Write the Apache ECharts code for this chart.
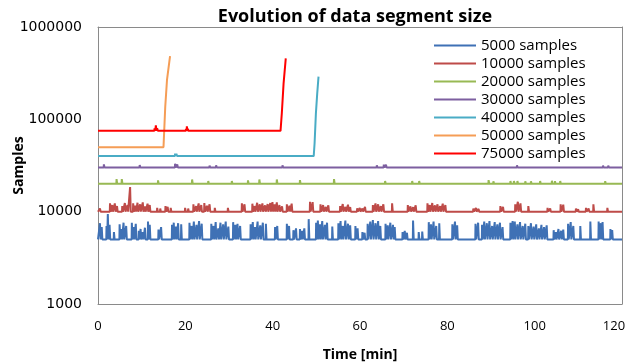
<!DOCTYPE html>
<html>
<head>
<meta charset="utf-8">
<script src="https://cdn.jsdelivr.net/npm/echarts@6/dist/echarts.min.js"></script>
<style>
  html, body { margin: 0; padding: 0; background: #fff; }
  #chart { width: 627px; height: 364px; }
</style>
</head>
<body>
<div id="chart"></div>
<script>
// Spike events per series: [time (min), samples]. Baseline = segment size.
const seriesNames = ['5000 samples', '10000 samples', '20000 samples', '30000 samples',
  '40000 samples', '50000 samples', '75000 samples'];
const seriesColors = ['#3F71B5', '#BE4B48', '#98B954', '#7D5FA0', '#4AACC5', '#F59D56', '#FF0000'];
const xTicks = [0, 20, 40, 60, 80, 100, 120];
const yTicks = [1000, 10000, 100000, 1000000];

const spikes5000 = [
  [0.5, 7500], [0.9, 6800], [2.0, 7000], [2.3, 9400], [2.7, 7200], [3.7, 6000],
  [5.0, 7300], [5.4, 6500], [5.9, 7600], [6.5, 7000], [7.8, 7600], [8.2, 6800], [8.7, 7400],
  [9.4, 6200], [9.8, 6500], [10.3, 6000], [10.8, 6700], [11.5, 7800], [11.9, 7200],
  [13.9, 6400], [14.5, 6800], [17.0, 7200], [17.4, 7600], [17.9, 6900], [18.4, 7500], [19.1, 7300],
  [21.0, 7600], [21.5, 7000], [22.0, 7800], [22.6, 7200], [23.2, 7900], [23.8, 7400],
  [26.0, 7400], [26.5, 7000], [27.0, 7700], [27.6, 6600], [28.1, 7600], [28.7, 7300], [29.3, 7800], [29.9, 6900],
  [31.0, 7700], [31.5, 7200], [32.0, 7400], [32.6, 7000],
  [35.0, 7300], [35.5, 7700], [36.0, 6800], [36.6, 7800], [37.2, 7100], [37.8, 7600], [38.5, 7400],
  [40.6, 6800], [41.1, 7000], [43.3, 7400], [43.8, 7000], [44.8, 6300], [45.4, 6600],
  [46.3, 6500], [46.8, 6200], [47.3, 6600], [48.3, 8300],
  [50.0, 7600], [50.4, 8000], [50.9, 7300], [51.4, 7900], [52.0, 7200], [52.5, 7600], [53.7, 6900],
  [55.1, 7500], [55.6, 7900], [56.1, 7000], [56.7, 8000], [57.3, 7400], [57.8, 7100],
  [59.0, 7000], [59.5, 6600], [60.6, 6000], [61.1, 5900],
  [61.8, 7400], [62.4, 7800], [63.0, 8100], [63.6, 7500], [64.2, 7900], [64.7, 7000],
  [65.9, 7400], [66.4, 7100], [67.0, 7600], [67.6, 7200], [68.0, 6800],
  [69.8, 6000], [70.3, 6200], [70.8, 5900], [72.2, 8000], [73.5, 6000], [74.3, 6100],
  [75.8, 7700], [76.3, 7300], [76.9, 7800], [77.5, 7000], [78.2, 7500],
  [81.2, 7300], [81.8, 7800], [82.3, 7100], [86.5, 7400], [87.1, 7600],
  [88.0, 7200], [88.5, 7800], [89.1, 7500], [89.7, 7900], [90.3, 7000], [90.9, 7700], [91.5, 7300], [92.1, 7600], [92.7, 6800],
  [94.5, 7600], [95.0, 7900], [95.5, 7800], [96.1, 7300], [96.7, 7700], [97.3, 7000], [97.9, 7400],
  [98.6, 7000], [99.2, 7500], [99.8, 6900], [100.4, 7300], [101.0, 6600], [101.6, 7200], [102.2, 6800], [102.8, 7100],
  [104.4, 6300], [104.9, 6000], [105.5, 6500], [106.1, 6200], [106.6, 6400],
  [107.7, 7400], [108.3, 7700], [108.9, 7000], [110.5, 7000], [112.8, 7800],
  [114.7, 7800], [115.2, 7500], [115.6, 7700], [117.4, 6500], [117.8, 6300]
];

const spikes10000 = [
  [0.5, 10800], [2.8, 12300], [3.3, 11800], [3.9, 12300], [4.4, 11500],
  [5.6, 11500], [6.2, 12400], [6.8, 11800], [7.4, 18500],
  [8.1, 12300], [8.6, 11600], [9.1, 12500], [9.7, 12000], [10.3, 12600], [10.8, 11400], [11.4, 12200], [11.9, 11800],
  [13.6, 11000], [14.3, 10800], [15.5, 11500], [16.0, 11300], [16.7, 11000], [20.0, 11000], [20.7, 10800],
  [21.9, 12000], [22.5, 11500], [23.1, 12300], [23.7, 11800], [24.4, 12400], [25.0, 11600], [25.6, 12000],
  [26.8, 11000], [29.8, 11000], [33.0, 12300], [33.6, 12000],
  [35.4, 12200], [35.9, 11500], [36.5, 12500], [37.1, 12000], [37.7, 12300], [38.3, 11700], [38.9, 12100],
  [39.5, 12400], [40.0, 12700], [40.5, 12000], [41.0, 12600], [41.6, 11800], [42.2, 11400],
  [43.3, 12000], [43.9, 11600], [44.4, 12200], [48.6, 12800], [49.2, 12700],
  [51.0, 12000], [51.6, 11800], [52.2, 11300], [52.8, 11700],
  [55.5, 11500], [56.1, 12100], [56.7, 11300], [57.3, 11900], [57.8, 11200],
  [59.4, 10900], [60.0, 11000], [60.6, 10800], [61.2, 11300],
  [63.0, 11800], [63.6, 12300], [64.2, 12000], [64.8, 11500], [65.4, 12000], [67.4, 12300],
  [71.0, 11800], [71.6, 11400], [72.2, 11200], [72.8, 11700],
  [75.5, 12300], [76.0, 11800], [76.6, 12400], [77.2, 11700], [77.8, 12000], [78.4, 11500], [79.0, 12200], [79.6, 11800],
  [81.2, 10500], [83.5, 10500], [86.0, 10800], [86.6, 11000], [87.2, 10700],
  [92.2, 11500], [92.8, 11300], [95.6, 12000], [96.2, 12800], [96.8, 12300], [98.6, 11500],
  [103.0, 11000], [103.6, 10800], [106.0, 12000], [106.6, 11900], [109.5, 10800], [110.0, 10600],
  [111.8, 11000], [112.4, 10800], [113.5, 12000], [116.7, 11000]
];

const spikes20000 = [
  [4.3, 22500], [5.5, 22500], [8.5, 20500], [13.8, 21800], [21.6, 22300], [25.3, 21500], [27.6, 20600],
  [30.7, 21500], [34.4, 21800], [37.0, 22300], [41.0, 22300], [43.6, 20700], [46.3, 22000],
  [54.1, 22500], [55.4, 20700], [65.8, 21500], [72.0, 21500], [73.6, 21500], [75.9, 20800], [77.2, 20800],
  [81.0, 20600], [86.0, 20500], [89.5, 22000], [90.6, 21300], [92.2, 20700], [94.5, 21500], [95.3, 21500],
  [96.1, 21500], [97.9, 21300], [99.2, 21300], [101.3, 21500], [104.0, 21600], [104.7, 21400], [105.9, 21500],
  [110.0, 20600], [113.1, 20700], [114.7, 20800], [116.2, 21400]
];

const spikes30000 = [
  [1.4, 32500], [4.8, 30700], [9.6, 32000], [11.7, 30800], [14.7, 30900], [17.7, 33000], [18.2, 32500],
  [22.8, 31500], [24.1, 31500], [25.6, 31600], [27.1, 31700], [29.6, 30900], [42.3, 31800],
  [63.9, 31800], [65.5, 32300], [66.0, 32300], [81.0, 31000], [84.0, 30700], [87.2, 31500], [89.5, 31200],
  [91.0, 31500], [93.0, 30700], [94.1, 31500], [94.8, 31500], [96.0, 31800], [97.9, 31300], [99.5, 30700],
  [101.0, 31300], [102.1, 31300], [105.5, 31500], [106.3, 31500], [108.2, 31400], [110.5, 30700],
  [113.0, 31300], [115.7, 31600], [116.9, 31600], [119.5, 31000]
];

const spikes40000 = [
  [9.6, 41500], [10.2, 41500], [15.3, 42000], [15.7, 42000], [16.1, 42000], [17.7, 42500], [18.0, 42500],
  [22.3, 41500], [26.0, 40800], [38.2, 41000], [44.3, 40800], [47.8, 40800]
];
const rise40000 = [[49.4, 40000], [49.6, 55000], [49.9, 116000], [50.2, 190000], [50.5, 290000]];

const spikes50000 = [[0.4, 51500], [4.4, 51000], [8.1, 52500]];
const rise50000 = [[15.0, 50000], [15.4, 137000], [15.8, 267000], [16.5, 485000]];

const spikes75000 = [
  [10.4, 76500], [11.2, 76500], [13.0, 80000], [13.3, 86000], [13.6, 80000], [16.0, 76500], [17.0, 76000],
  [20.2, 79000], [20.4, 84000], [20.6, 79000], [23.6, 76500], [37.7, 77000]
];
const rise75000 = [[41.8, 75000], [42.1, 117000], [42.5, 245000], [43.0, 458000]];

// baseline with narrow spikes, optionally ending in a steep rise
function buildLine(base, events, rise) {
  const pts = [[0, base]];
  const half = 0.1;
  events.forEach(([t, v]) => {
    pts.push([t - half, base], [t - half / 2, v], [t + half / 2, v], [t + half, base]);
  });
  if (rise) pts.push(...rise);
  else pts.push([120, base]);
  return pts;
}

const lineData = [
  buildLine(5000, spikes5000),
  buildLine(10000, spikes10000),
  buildLine(20000, spikes20000),
  buildLine(30000, spikes30000),
  buildLine(40000, spikes40000, rise40000),
  buildLine(50000, spikes50000, rise50000),
  buildLine(75000, spikes75000, rise75000)
];

const font = '"Open Sans", "Liberation Sans", sans-serif';
const frameColor = '#8a8a8a';
const chart = echarts.init(document.getElementById('chart'), null, { renderer: 'canvas' });

// plain frame axes (top / right) to close the plot box
const frameX = {
  type: 'value', position: 'top', min: 0, max: 120, interval: 20,
  axisLine: { show: true, onZero: false, lineStyle: { color: frameColor } },
  axisTick: { show: false }, axisLabel: { show: false }, splitLine: { show: false }
};
const frameY = {
  type: 'log', position: 'right', min: yTicks[0], max: yTicks[yTicks.length - 1],
  axisLine: { show: true, onZero: false, lineStyle: { color: frameColor } },
  axisTick: { show: false }, axisLabel: { show: false }, splitLine: { show: false }
};

chart.setOption({
  animation: false,
  backgroundColor: '#fff',
  title: {
    text: 'Evolution of data segment size',
    left: 350,
    top: 3,
    textAlign: 'center',
    textStyle: { fontFamily: font, fontSize: 18, fontWeight: 'bold', color: '#000' }
  },
  legend: {
    orient: 'vertical',
    left: 429,
    top: 33,
    itemWidth: 42,
    itemHeight: 2,
    itemGap: 3,
    icon: 'rect',
    data: seriesNames,
    textStyle: { fontFamily: font, fontSize: 15, color: '#000', lineHeight: 15 }
  },
  grid: {
    left: 98, right: 5, top: 27, bottom: 60,
    outerBoundsMode: 'none',
    containLabel: false,
    show: false
  },
  xAxis: [{
    type: 'value',
    position: 'bottom',
    min: 0, max: 120, interval: 20,
    name: 'Time [min]',
    nameLocation: 'middle',
    nameGap: 44,
    nameMoveOverlap: false,
    nameTextStyle: { fontFamily: font, fontSize: 14, fontWeight: 'bold', color: '#000' },
    axisLine: { show: true, onZero: false, lineStyle: { color: frameColor } },
    axisTick: { show: false },
    splitLine: { show: false },
    axisLabel: {
      margin: 16, fontFamily: font, fontSize: 13, color: '#000',
      formatter: v => v === 120 ? '{r|120}' : (xTicks.includes(v) ? String(v) : ''),
      rich: { r: { fontFamily: font, fontSize: 13, color: '#000', padding: [0, 16, 0, 0] } }
    }
  }, frameX],
  yAxis: [{
    type: 'log',
    logBase: 10,
    position: 'left',
    min: yTicks[0], max: yTicks[yTicks.length - 1],
    name: 'Samples',
    nameLocation: 'middle',
    nameGap: 72,
    nameMoveOverlap: false,
    nameTextStyle: { fontFamily: font, fontSize: 14, fontWeight: 'bold', color: '#000' },
    axisLine: { show: true, onZero: false, lineStyle: { color: frameColor } },
    axisTick: { show: false },
    splitLine: { show: false },
    axisLabel: {
      margin: 16, fontFamily: '"DejaVu Sans", sans-serif', fontSize: 14, color: '#000',
      formatter: v => String(Math.round(v))
    }
  }, frameY],
  series: seriesNames.map((name, i) => ({
    name,
    type: 'line',
    xAxisIndex: 0,
    yAxisIndex: 0,
    data: lineData[i],
    showSymbol: false,
    symbol: 'none',
    color: seriesColors[i],
    lineStyle: { width: 2, color: seriesColors[i] },
    z: 2 + i
  }))
});
</script>
</body>
</html>
